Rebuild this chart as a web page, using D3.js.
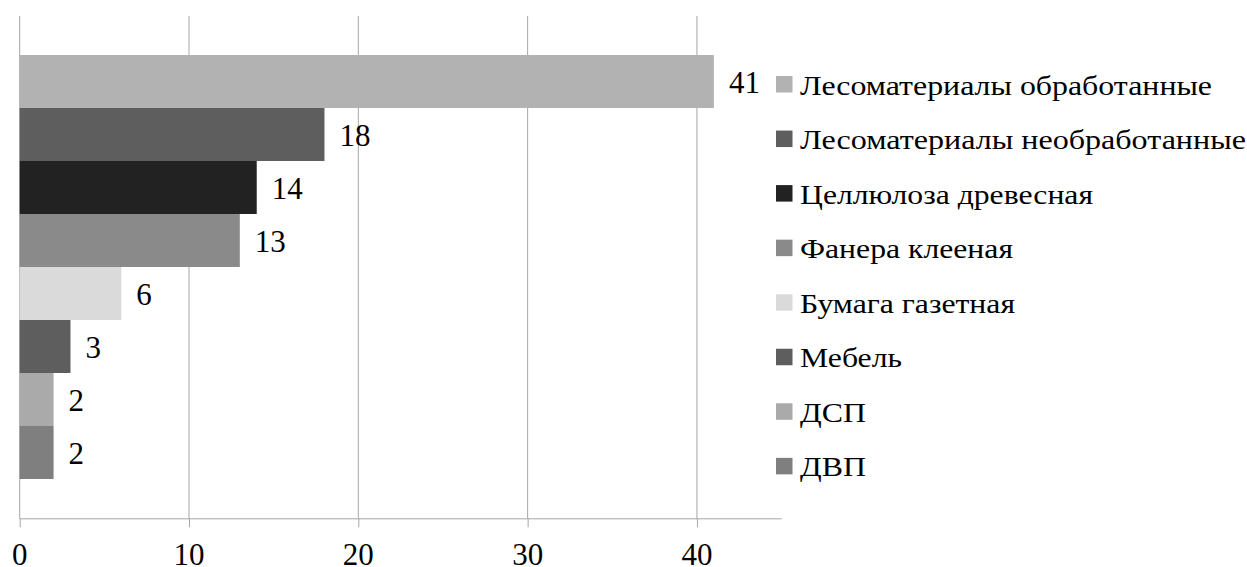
<!DOCTYPE html>
<html><head><meta charset="utf-8">
<script src="https://cdn.jsdelivr.net/npm/d3@7"></script>
<style>
html,body{margin:0;padding:0;background:#fff;}
</style></head>
<body>
<svg id="chart" width="1247" height="567"></svg>
<script>
const categories = ["Лесоматериалы обработанные","Лесоматериалы необработанные","Целлюлоза древесная","Фанера клееная","Бумага газетная","Мебель","ДСП","ДВП"];
const values = [41, 18, 14, 13, 6, 3, 2, 2];
const colors = ["#b2b2b2","#5e5e5e","#222222","#8a8a8a","#dadada","#5e5e5e","#aaaaaa","#7f7f7f"];
const xTicks = [0, 10, 20, 30, 40];

// layout
const FONT = "Times New Roman";
const legendTextWidths = [412, 446, 293, 213, 215, 102, 66, 66];
const svg = d3.select("#chart");
const x = d3.scaleLinear().domain([0, 45]).range([19.7, 781.6]);
const y = d3.scaleBand().domain(categories).range([16, 518]).paddingInner(0).paddingOuter(0.736);
const yTop = 16, yBot = 518.3;

// gridlines
svg.selectAll("line.grid").data(xTicks).join("line").attr("class", "grid")
  .attr("x1", d => x(d)).attr("x2", d => x(d))
  .attr("y1", yTop).attr("y2", yBot)
  .attr("stroke", "#a6a6a6").attr("stroke-width", 1);

// bars
svg.selectAll("rect.bar").data(values).join("rect").attr("class", "bar")
  .attr("x", x(0)).attr("y", (d, i) => y(categories[i]))
  .attr("width", d => x(d) - x(0)).attr("height", y.bandwidth())
  .attr("fill", (d, i) => colors[i]);

// x axis (lines from the axis generator)
const axis = d3.axisBottom(x).tickValues(xTicks).tickSize(9).tickFormat(() => "");
const ax = svg.append("g").attr("transform", `translate(0,${yBot})`).call(axis);
ax.select(".domain").attr("stroke", "#a6a6a6").attr("d", `M${x(0)},0.5H${x(45)}`);
ax.selectAll(".tick line").attr("stroke", "#a6a6a6");
ax.selectAll(".tick text").remove();

// tick labels
svg.selectAll("text.tick-label").data(xTicks).join("text").attr("class", "tick-label")
  .attr("x", d => x(d)).attr("y", 564.5).attr("text-anchor", "middle")
  .attr("font-family", FONT).attr("font-size", 31).attr("fill", "#000")
  .text(d => d);

// data labels
svg.selectAll("text.val").data(values).join("text").attr("class", "val")
  .attr("x", d => x(d) + 15)
  .attr("y", (d, i) => y(categories[i]) + y.bandwidth() / 2 + 11.5)
  .attr("font-family", FONT).attr("font-size", 31).attr("fill", "#000")
  .text(d => d);

// legend
const legendStep = 54.55;
svg.selectAll("rect.leg").data(categories).join("rect").attr("class", "leg")
  .attr("x", 776).attr("y", (d, i) => 84 + i * legendStep - 8)
  .attr("width", 16.5).attr("height", 16.5)
  .attr("fill", (d, i) => colors[i]);
svg.selectAll("text.leg").data(categories).join("text").attr("class", "leg")
  .attr("x", 800).attr("y", (d, i) => 84 + i * legendStep + 10.5)
  .attr("font-family", FONT).attr("font-size", 28).attr("fill", "#000")
  .attr("textLength", (d, i) => legendTextWidths[i])
  .attr("lengthAdjust", "spacingAndGlyphs")
  .text(d => d);
</script>
</body></html>
